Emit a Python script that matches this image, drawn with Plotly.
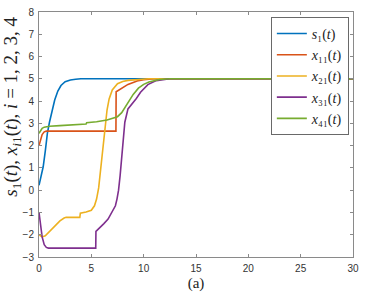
import plotly.graph_objects as go

# ---- data ----
t_s1 = [0, 0.2, 0.4, 0.6, 0.8, 1.0, 1.2, 1.5, 1.8, 2.1, 2.5, 3.0, 3.5, 4.0, 5.0, 30]
s1 = [0.22, 0.6, 1.05, 1.75, 2.55, 3.05, 3.5, 4.05, 4.45, 4.7, 4.87, 4.95, 4.98, 5.0, 5.0, 5.0]

t_x11 = [0, 0.15, 0.3, 0.5, 0.7, 7.35, 7.37, 8.5, 9.0, 9.5, 10.0, 10.5, 11.0, 30]
x11 = [2.0, 2.3, 2.5, 2.62, 2.65, 2.65, 4.42, 4.75, 4.85, 4.92, 4.96, 4.99, 5.0, 5.0]

t_x21 = [0, 0.3, 0.6, 1.0, 1.5, 2.0, 2.4, 2.6, 3.9, 3.95, 4.5, 5.0, 5.3, 5.5, 5.7, 5.9,
         6.1, 6.3, 6.5, 6.7, 7.0, 7.5, 8.0, 8.5, 9.5, 10.5, 30]
x21 = [-2.0, -2.1, -2.05, -1.85, -1.6, -1.38, -1.25, -1.22, -1.22, -1.03, -0.98, -0.9, -0.7,
       -0.4, 0.1, 1.0, 2.0, 2.9, 3.6, 4.1, 4.5, 4.78, 4.88, 4.93, 4.98, 5.0, 5.0]

t_x31 = [0, 0.15, 0.3, 0.5, 0.7, 0.9, 5.42, 5.44, 5.8, 6.2, 6.6, 7.0, 7.3, 7.45, 7.6, 7.75,
         7.9, 8.05, 8.2, 8.5, 8.85, 9.3, 9.7, 10.4, 11.2, 12.5, 30]
x31 = [-1.0, -1.6, -2.1, -2.45, -2.57, -2.6, -2.6, -1.85, -1.7, -1.5, -1.3, -0.95, -0.7,
       -0.4, 0.0, 0.65, 1.5, 2.4, 3.05, 3.65, 3.85, 4.12, 4.4, 4.74, 4.92, 5.0, 5.0]

t_x41 = [0, 0.15, 0.3, 0.5, 0.7, 1.0, 2.0, 3.0, 4.0, 4.5, 4.55, 5.5, 6.5, 7.0, 7.5, 7.9,
         8.2, 8.5, 9.0, 9.5, 10.0, 10.5, 11.0, 11.5, 12.5, 30]
x41 = [2.55, 2.68, 2.78, 2.83, 2.85, 2.87, 2.9, 2.93, 2.96, 2.97, 3.03, 3.07, 3.15, 3.22,
       3.3, 3.48, 3.7, 3.98, 4.3, 4.58, 4.75, 4.86, 4.93, 4.97, 5.0, 5.0]

names = ["<i>s</i>\u2081(<i>t</i>)",
         "<i>x</i>\u2081\u2081(<i>t</i>)",
         "<i>x</i>\u2082\u2081(<i>t</i>)",
         "<i>x</i>\u2083\u2081(<i>t</i>)",
         "<i>x</i>\u2084\u2081(<i>t</i>)"]
colors = ["#0072BD", "#D95319", "#EDB120", "#7E2F8E", "#77AC30"]

x_ticks = [0, 5, 10, 15, 20, 25, 30]
y_ticks = [-3, -2, -1, 0, 1, 2, 3, 4, 5, 6, 7, 8]

series = [(t_s1, s1), (t_x11, x11), (t_x21, x21), (t_x31, x31), (t_x41, x41)]

fig = go.Figure()
for (tt, yy), nm, c in zip(series, names, colors):
    fig.add_trace(go.Scatter(x=tt, y=yy, mode="lines", name=nm,
                             line=dict(color=c, width=1.6)))

serif = "Liberation Serif, Times New Roman, serif"
axcol = "#8a8a8a"
tickfont = dict(family="Liberation Sans, Arial, sans-serif", size=10, color="#333333")
fig.update_layout(
    width=370, height=294,
    margin=dict(l=39, r=17, t=12, b=37),
    paper_bgcolor="white", plot_bgcolor="white",
    showlegend=True,
    legend=dict(x=0.739, y=0.979, xanchor="left", yanchor="top",
                bgcolor="white", bordercolor="#444444", borderwidth=0.8,
                font=dict(family=serif, size=14, color="#222222"),
                tracegroupgap=0, itemwidth=30),
    xaxis=dict(range=[0, 30], tickvals=x_ticks, ticks="inside", ticklen=3,
               tickcolor=axcol, showline=True, linecolor=axcol, linewidth=1,
               mirror="ticks", showgrid=False, zeroline=False, tickfont=tickfont,
               ticklabelstandoff=2, automargin=False,
               title=dict(text="(a)", font=dict(family=serif, size=15, color="#222222"),
                          standoff=4)),
    yaxis=dict(range=[-3, 8], tickvals=y_ticks, ticks="inside", ticklen=3,
               tickcolor=axcol, showline=True, linecolor=axcol, linewidth=1,
               mirror="ticks", showgrid=False, zeroline=False, tickfont=tickfont,
               ticklabelstandoff=2, automargin=False),
    annotations=[dict(
        text="<i>s</i><sub>1</sub>(<i>t</i>), <i>x</i><sub><i>i</i>1</sub>(<i>t</i>), <i>i</i> = 1, 2, 3, 4",
        xref="paper", yref="paper", x=-0.085, y=0.615, xanchor="center", yanchor="middle",
        textangle=-90, showarrow=False,
        font=dict(family=serif, size=19, color="#222222"))],
)

fig.write_html("out.html", config={"displayModeBar": False},
               post_script="document.body.style.margin='0';")
